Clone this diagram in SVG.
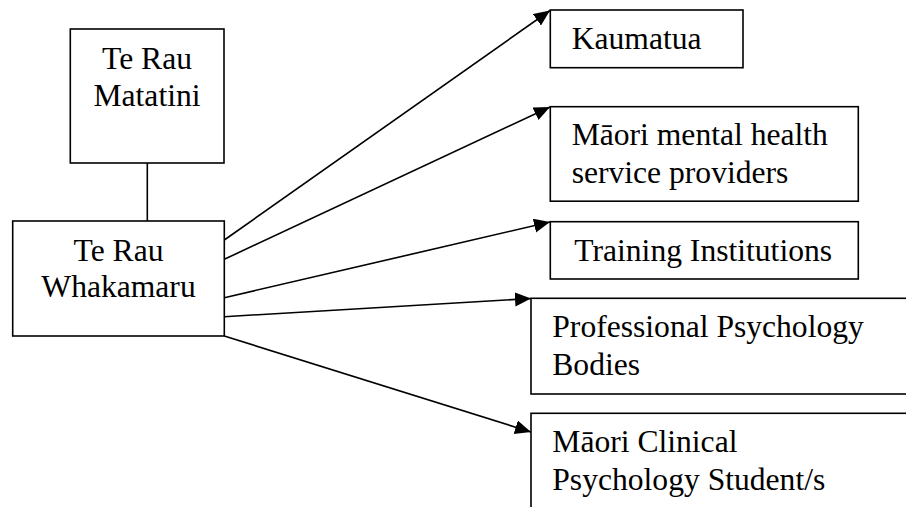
<svg xmlns="http://www.w3.org/2000/svg" width="906" height="507" viewBox="0 0 906 507">
  <style>
    .box { fill: #fff; stroke: #000; stroke-width: 1.6; }
    .lbl { font-family: "Liberation Serif", "Times New Roman", serif; font-size: 31.6px; fill: #000; }
    .mid { text-anchor: middle; }
    .conn { stroke: #000; stroke-width: 1.6; fill: none; }
    .arrow { marker-end: url(#head); }
  </style>
  <defs>
    <marker id="head" markerUnits="userSpaceOnUse" markerWidth="17" markerHeight="15" refX="16" refY="7" orient="auto">
      <path d="M0,0 L16,7 L0,14 z" fill="#000"/>
    </marker>
  </defs>

  <g id="connectors">
    <line class="conn" x1="147.3" y1="163" x2="147.3" y2="221"/>
    <line class="conn arrow" x1="224.3" y1="240" x2="550" y2="10.5"/>
    <line class="conn arrow" x1="224.3" y1="259.3" x2="550" y2="107"/>
    <line class="conn arrow" x1="224.3" y1="297.7" x2="550" y2="222"/>
    <line class="conn arrow" x1="224.3" y1="316.7" x2="531" y2="298.5"/>
    <line class="conn arrow" x1="224.3" y1="336" x2="531" y2="432"/>
  </g>

  <g id="te-rau-matatini">
    <rect class="box" x="70.3" y="29" width="153.7" height="134"/>
    <text class="lbl mid" x="147" y="69">Te Rau</text>
    <text class="lbl mid" x="147" y="106">Matatini</text>
  </g>

  <g id="te-rau-whakamaru">
    <rect class="box" x="12.7" y="221" width="211.6" height="115"/>
    <text class="lbl mid" x="118.5" y="261">Te Rau</text>
    <text class="lbl mid" x="118.5" y="297">Whakamaru</text>
  </g>

  <g id="kaumatua">
    <rect class="box" x="550.3" y="10" width="192.7" height="57.7"/>
    <text class="lbl" x="571.7" y="49.3">Kaumatua</text>
  </g>

  <g id="maori-mental-health">
    <rect class="box" x="550.3" y="106.7" width="308" height="94.5"/>
    <text class="lbl" x="571.7" y="145">Māori mental health</text>
    <text class="lbl" x="571.7" y="183.3">service providers</text>
  </g>

  <g id="training-institutions">
    <rect class="box" x="550.3" y="221.7" width="308" height="57.3"/>
    <text class="lbl" x="574.3" y="261">Training Institutions</text>
  </g>

  <g id="professional-bodies">
    <rect class="box" x="531" y="298.3" width="390" height="95.7"/>
    <text class="lbl" x="552.3" y="337.3">Professional Psychology</text>
    <text class="lbl" x="552.3" y="375">Bodies</text>
  </g>

  <g id="clinical-students">
    <rect class="box" x="531" y="413.3" width="390" height="110"/>
    <text class="lbl" x="552.3" y="452.3">Māori Clinical</text>
    <text class="lbl" x="552.3" y="490">Psychology Student/s</text>
  </g>
</svg>
